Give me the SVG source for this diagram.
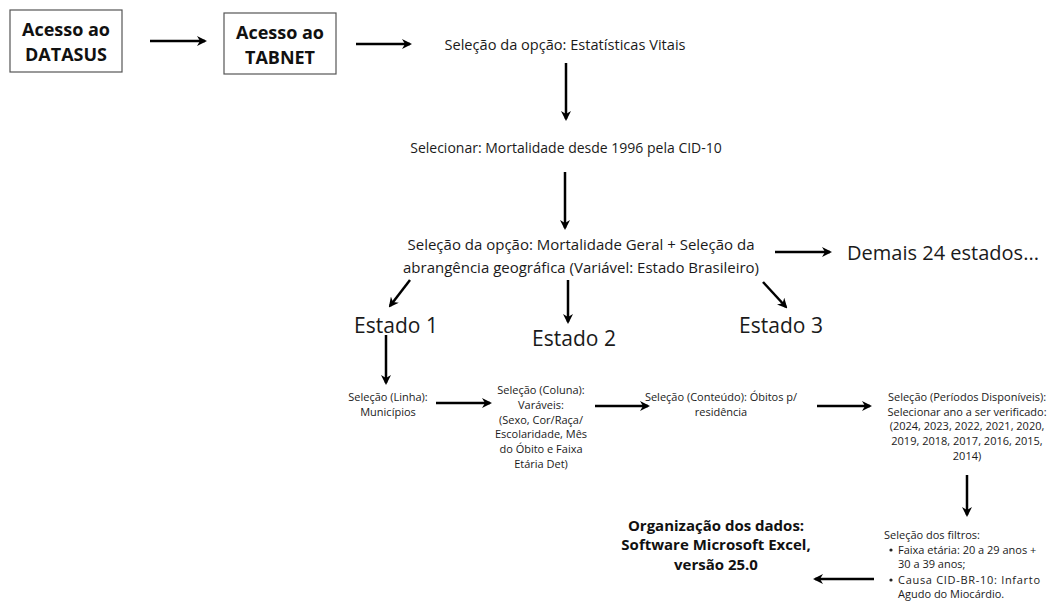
<svg xmlns="http://www.w3.org/2000/svg" width="1050" height="602" viewBox="0 0 1050 602">
<defs>
<marker id="ah" viewBox="0 0 10 10" refX="8" refY="5" markerWidth="4" markerHeight="4" orient="auto" markerUnits="strokeWidth">
<path d="M0,0 L10,5 L0,10 L3,5 Z" fill="#000"/>
</marker>
</defs>
<style>
.t{font-family:"Open Sans","Liberation Sans",sans-serif;fill:#1a1a1a;text-anchor:middle}
.b{font-weight:bold;fill:#111}
.box{fill:#fff;stroke:#555;stroke-width:1.2}
.c line{stroke:#000;stroke-width:2.5;marker-end:url(#ah)}
</style>
<rect width="1050" height="602" fill="#fff"/>
<g id="n1"><rect class="box" x="10" y="10" width="112" height="62"/><text class="t b" font-size="18" x="66" y="36">Acesso ao</text><text class="t b" font-size="18" x="66" y="61">DATASUS</text></g>
<g id="n2"><rect class="box" x="224" y="13" width="112" height="61"/><text class="t b" font-size="18" x="280" y="39">Acesso ao</text><text class="t b" font-size="18" x="280" y="64">TABNET</text></g>
<g id="n3"><text class="t" font-size="14.6" x="565" y="50">Seleção da opção: Estatísticas Vitais</text></g>
<g id="n4"><text class="t" font-size="14" x="566" y="153">Selecionar: Mortalidade desde 1996 pela CID-10</text></g>
<g id="n5"><text class="t" font-size="15" x="581" y="250">Seleção da opção: Mortalidade Geral + Seleção da</text><text class="t" font-size="15" x="581" y="273">abrangência geográfica (Variável: Estado Brasileiro)</text></g>
<g id="n6"><text class="t" font-size="20" x="943" y="260">Demais 24 estados...</text></g>
<g id="n7"><text class="t" font-size="21" x="396" y="333">Estado 1</text></g>
<g id="n8"><text class="t" font-size="21" x="574" y="346">Estado 2</text></g>
<g id="n9"><text class="t" font-size="21" x="781" y="333">Estado 3</text></g>
<g id="n10" font-size="11"><text class="t" x="388" y="401">Seleção (Linha):</text><text class="t" x="388" y="416">Municípios</text></g>
<g id="n11" font-size="11"><text class="t" x="541" y="394">Seleção (Coluna):</text><text class="t" x="541" y="409">Varáveis:</text><text class="t" x="541" y="424">(Sexo, Cor/Raça/</text><text class="t" x="541" y="438">Escolaridade, Mês</text><text class="t" x="541" y="453">do Óbito e Faixa</text><text class="t" x="541" y="468">Etária Det)</text></g>
<g id="n12" font-size="11"><text class="t" x="721" y="401">Seleção (Conteúdo): Óbitos p/</text><text class="t" x="721" y="416">residência</text></g>
<g id="n13" font-size="11"><text class="t" x="967" y="401">Seleção (Períodos Disponíveis):</text><text class="t" x="967" y="416">Selecionar ano a ser verificado:</text><text class="t" x="967" y="430">(2024, 2023, 2022, 2021, 2020,</text><text class="t" x="967" y="445">2019, 2018, 2017, 2016, 2015,</text><text class="t" x="967" y="460">2014)</text></g>
<g id="n14" font-size="11" font-family="Open Sans, sans-serif" fill="#1a1a1a"><text x="884" y="539">Seleção dos filtros:</text><circle cx="891" cy="550" r="1.6" fill="#222"/><text x="898" y="554">Faixa etária: 20 a 29 anos +</text><text x="898" y="568">30 a 39 anos;</text><circle cx="891" cy="580" r="1.6" fill="#222"/><text x="898" y="584" textLength="142" lengthAdjust="spacing">Causa   CID-BR-10:   Infarto</text><text x="898" y="598">Agudo do Miocárdio.</text></g>
<g id="n15"><text class="t b" font-size="15" x="716" y="531">Organização dos dados:</text><text class="t b" font-size="15" x="716" y="550">Software Microsoft Excel,</text><text class="t b" font-size="15" x="716" y="570">versão 25.0</text></g>
<g class="c" id="connectors">
<line x1="150" y1="41" x2="205" y2="41"/>
<line x1="356" y1="44" x2="410" y2="44"/>
<line x1="566" y1="63" x2="566" y2="119"/>
<line x1="565" y1="172" x2="565" y2="228"/>
<line x1="775" y1="252" x2="830" y2="252"/>
<line x1="410" y1="280" x2="390" y2="306"/>
<line x1="568" y1="280" x2="568" y2="322"/>
<line x1="763" y1="282" x2="786" y2="307"/>
<line x1="386" y1="335" x2="386" y2="383"/>
<line x1="436" y1="403" x2="490" y2="403"/>
<line x1="595" y1="406" x2="648" y2="406"/>
<line x1="817" y1="406" x2="870" y2="406"/>
<line x1="967" y1="475" x2="967" y2="515"/>
<line x1="874" y1="579" x2="815" y2="579"/>
</g>
</svg>
